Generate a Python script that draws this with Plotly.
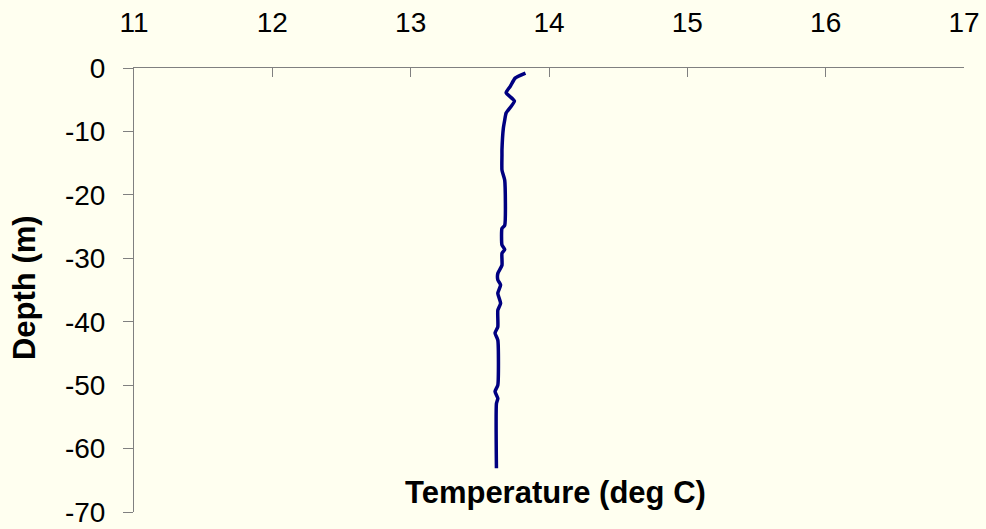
import plotly.graph_objects as go

# Data
temperature = [13.83, 13.755, 13.72, 13.69, 13.75, 13.69, 13.68, 13.67, 13.66, 13.66,
               13.66, 13.68, 13.68, 13.66, 13.66, 13.68, 13.66, 13.66, 13.63, 13.63,
               13.65, 13.63, 13.65, 13.63, 13.63, 13.61, 13.63, 13.63, 13.61, 13.63,
               13.62, 13.62]
depth = [-0.8, -1.6, -2.9, -3.9, -5.2, -7.1, -8.2, -9.5, -12.9, -13.7,
         -16.1, -17.7, -24.8, -25.3, -27.9, -28.6, -29.2, -31.1, -32.4, -33.4,
         -34.2, -35.5, -37.1, -38.2, -40.8, -41.8, -42.9, -50.0, -51.0, -52.1,
         -52.9, -63.1]
x_ticks = [11, 12, 13, 14, 15, 16, 17]
x_tick_labels = ["11", "12", "13", "14", "15", "16", "17"]
y_ticks = [0, -10, -20, -30, -40, -50, -60, -70]
y_tick_labels = ["0", "-10", "-20", "-30", "-40", "-50", "-60", "-70"]

BG = "#FFFFF0"
FONT = "Liberation Sans, Arial, sans-serif"

fig = go.Figure()
fig.add_trace(go.Scatter(
    x=temperature, y=depth, mode="lines",
    line=dict(color="#000080", width=3.5, shape="spline", smoothing=0.5),
    hoverinfo="skip", showlegend=False,
))

fig.update_layout(
    width=986, height=529,
    margin=dict(l=134, r=22, t=68, b=17),
    paper_bgcolor=BG, plot_bgcolor=BG,
    font=dict(family=FONT, size=28, color="black"),
    xaxis=dict(
        range=[11, 17], side="top", tickvals=x_ticks, ticktext=x_tick_labels,
        showline=True, linecolor="#808080", linewidth=1,
        ticks="inside", ticklen=9, tickcolor="#808080", tickwidth=1,
        showgrid=False, zeroline=False, ticklabelstandoff=24,
        automargin=False,
        tickfont=dict(size=28, family=FONT),
    ),
    yaxis=dict(
        range=[-70, 0], tickvals=y_ticks, ticktext=y_tick_labels,
        showline=True, linecolor="#808080", linewidth=1,
        ticks="outside", ticklen=10, tickcolor="#808080", tickwidth=1,
        showgrid=False, zeroline=False, ticklabelstandoff=12,
        automargin=False,
        tickfont=dict(size=28, family=FONT),
    ),
    annotations=[
        dict(text="<b>Temperature (deg C)</b>", xref="paper", yref="paper",
             x=0.508, y=0.043, xanchor="center", yanchor="middle",
             showarrow=False, font=dict(size=31, family=FONT)),
        dict(text="<b>Depth (m)</b>", xref="paper", yref="paper",
             x=-0.131, y=0.505, xanchor="center", yanchor="middle",
             textangle=-90, showarrow=False, font=dict(size=31, family=FONT)),
    ],
)

fig.write_html(
    "out.html",
    config={"displayModeBar": False, "staticPlot": True},
    post_script="document.body.style.margin='0px';document.body.style.padding='0px';"
                "document.body.style.background='#FFFFF0';",
)
